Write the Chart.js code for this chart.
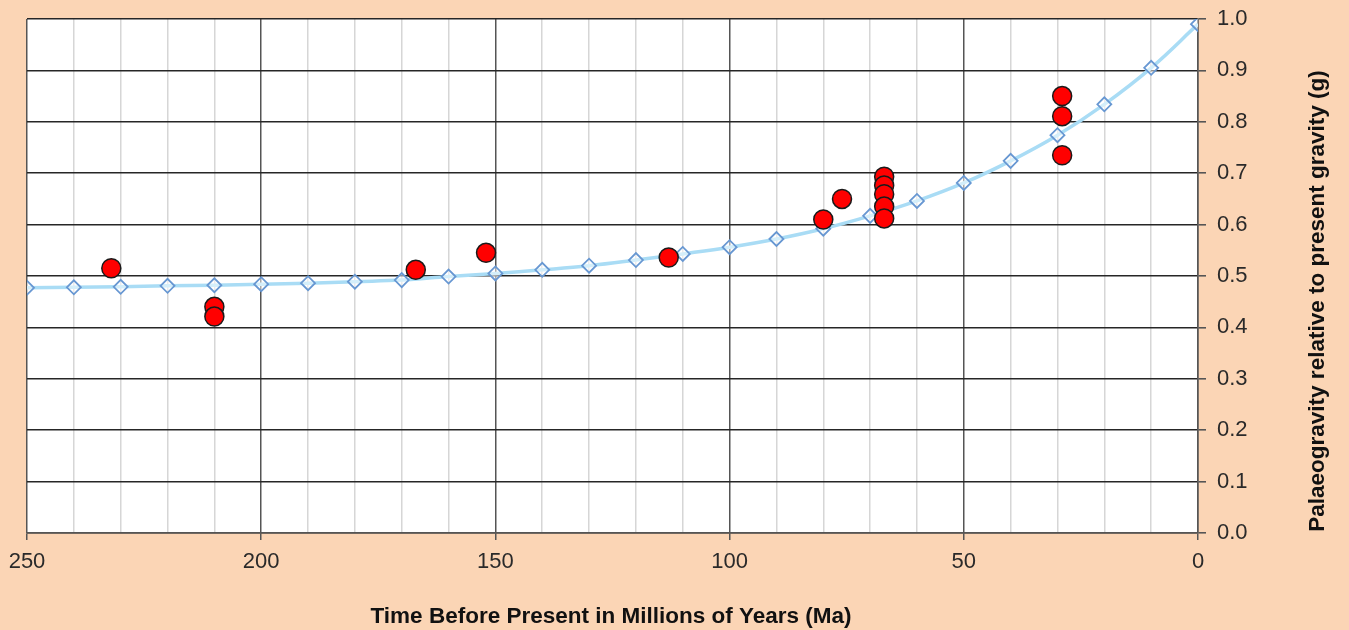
<!DOCTYPE html>
<html>
<head>
<meta charset="utf-8">
<title>Palaeogravity</title>
<script src="https://cdn.jsdelivr.net/npm/chart.js@4/dist/chart.umd.min.js"></script>
<style>
  html, body { margin: 0; padding: 0; background: #fbd5b5; }
  #wrap { width: 1349px; height: 630px; position: relative; }
</style>
</head>
<body>
<div id="wrap"><canvas id="chart"></canvas></div>
<script>
// --- Data ---
// model curve, every 10 Ma
const modelAges    = [250, 240, 230, 220, 210, 200, 190, 180, 170, 160, 150, 140, 130, 120, 110, 100, 90, 80, 70, 60, 50, 40, 30, 20, 10, 0];
const modelGravity = [0.477, 0.478, 0.479, 0.481, 0.482, 0.484, 0.486, 0.489, 0.492, 0.499, 0.505, 0.512, 0.520, 0.531, 0.543, 0.556, 0.572, 0.592, 0.617, 0.646, 0.681, 0.724, 0.774, 0.834, 0.905, 0.990];

// fossil estimates
const fossilAges    = [232, 210, 210, 167, 152, 113, 80, 76, 67, 67, 67, 67, 67, 29, 29, 29];
const fossilGravity = [0.515, 0.440, 0.421, 0.512, 0.545, 0.536, 0.610, 0.650, 0.693, 0.676, 0.659, 0.635, 0.612, 0.850, 0.811, 0.735];

const yTicks = [0, 0.1, 0.2, 0.3, 0.4, 0.5, 0.6, 0.7, 0.8, 0.9, 1.0];
const xLabelStep = 50;

const xTitle = 'Time Before Present in Millions of Years (Ma)';
const yTitle = 'Palaeogravity relative to present gravity (g)';

const FONT = "'Liberation Sans', Arial, sans-serif";

// --- Plugins ---
const plotBackground = {
  id: 'plotBackground',
  beforeDraw(chart) {
    const { ctx, chartArea: a } = chart;
    ctx.save();
    ctx.fillStyle = '#ffffff';
    ctx.fillRect(a.left, a.top, a.right - a.left, a.bottom - a.top);
    ctx.restore();
  }
};

const axisTitles = {
  id: 'axisTitles',
  afterDraw(chart) {
    const ctx = chart.ctx;
    ctx.save();
    ctx.fillStyle = '#111';
    ctx.font = 'bold 22.5px ' + FONT;
    ctx.textAlign = 'center';
    ctx.textBaseline = 'middle';
    ctx.fillText(xTitle, 611, 617);

    ctx.translate(1318, 301);
    ctx.rotate(-Math.PI / 2);
    ctx.fillText(yTitle, 0, 0);
    ctx.restore();
  }
};

// --- Chart ---
const modelPoints  = modelAges.map((a, i) => ({ x: a, y: modelGravity[i] }));
const fossilPoints = fossilAges.map((a, i) => ({ x: a, y: fossilGravity[i] }));

new Chart(document.getElementById('chart'), {
  type: 'scatter',
  data: {
    datasets: [
      {
        label: 'Fossil estimates',
        data: fossilPoints,
        pointRadius: 9.5,
        pointBackgroundColor: '#ff0000',
        pointBorderColor: '#1a1a1a',
        pointBorderWidth: 1.5
      },
      {
        label: 'Model',
        data: modelPoints,
        showLine: true,
        borderColor: '#a9dcf5',
        borderWidth: 3.5,
        tension: 0.4,
        pointStyle: 'rectRot',
        pointRadius: 7,
        pointBackgroundColor: 'rgba(255,255,255,0.5)',
        pointBorderColor: '#6797d2',
        pointBorderWidth: 1.8
      }
    ]
  },
  options: {
    responsive: true,
    maintainAspectRatio: false,
    animation: false,
    layout: { padding: { left: 27, top: 19, right: 0, bottom: 0 } },
    plugins: {
      legend: { display: false },
      tooltip: { enabled: false }
    },
    scales: {
      x: {
        type: 'linear',
        reverse: true,
        min: 0,
        max: 250,
        afterFit: s => { s.height = 97; s.paddingLeft = 0; s.paddingRight = 0; },
        afterBuildTicks: s => { s.ticks = modelAges.slice().reverse().map(v => ({ value: v })); },
        ticks: {
          autoSkip: false,
          maxRotation: 0,
          padding: 9,
          color: '#2a2a2a',
          font: { family: FONT, size: 22 },
          callback: v => (v % xLabelStep === 0 ? String(v) : '')
        },
        grid: {
          color: c => (c.tick && c.tick.value % xLabelStep === 0 ? '#555555' : '#d6d6d6'),
          lineWidth: 1.5,
          tickColor: c => (c.tick && c.tick.value % xLabelStep === 0 ? '#555555' : 'rgba(0,0,0,0)'),
          tickLength: 7
        },
        border: { color: '#555555', width: 1.5 }
      },
      y: {
        type: 'linear',
        position: 'right',
        min: 0,
        max: 1,
        afterFit: s => { s.width = 151; s.paddingTop = 0; s.paddingBottom = 0; },
        afterBuildTicks: s => { s.ticks = yTicks.map(v => ({ value: v })); },
        ticks: {
          padding: 11,
          color: '#2a2a2a',
          font: { family: FONT, size: 22 },
          callback: v => Number(v).toFixed(1)
        },
        grid: {
          color: '#262626',
          lineWidth: 1.6,
          tickColor: '#555555',
          tickLength: 8
        },
        border: { color: '#555555', width: 1.5 }
      }
    }
  },
  plugins: [plotBackground, axisTitles]
});
</script>
</body>
</html>
